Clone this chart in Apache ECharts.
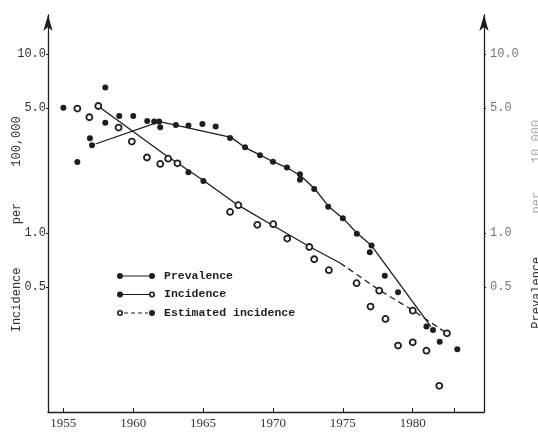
<!DOCTYPE html>
<html>
<head>
<meta charset="utf-8">
<script src="https://cdn.jsdelivr.net/npm/echarts@6/dist/echarts.min.js"></script>
<style>
  html, body { margin: 0; padding: 0; background: #fff; }
  #chart { width: 538px; height: 432px; }
</style>
</head>
<body>
<div id="chart"></div>
<script>
// scattered observations, [year, rate] — filled dots
const filledPts = [
  [1955.0, 5.0], [1958.0, 6.5], [1959.0, 4.5], [1960.0, 4.5], [1958.0, 4.13],
  [1956.9, 3.38], [1957.05, 3.09], [1956.0, 2.49], [1961.0, 4.22], [1961.5, 4.2],
  [1961.85, 4.2], [1961.93, 3.9], [1963.05, 4.01], [1963.95, 3.98], [1964.95, 4.06],
  [1965.9, 3.93], [1966.93, 3.39], [1968.0, 3.01], [1969.07, 2.72], [1970.0, 2.5],
  [1971.0, 2.32], [1971.93, 2.13], [1971.93, 1.98], [1972.95, 1.76], [1973.95, 1.40],
  [1975.0, 1.21], [1976.0, 0.99], [1977.05, 0.85], [1976.93, 0.78], [1978.0, 0.577],
  [1978.95, 0.466], [1980.98, 0.30], [1981.45, 0.287], [1981.93, 0.247], [1983.19, 0.224],
  [1963.95, 2.18], [1965.02, 1.95]
]
// open circles
const openPts = [
  [1956.0, 4.95], [1956.86, 4.43], [1957.5, 5.12], [1958.95, 3.88], [1959.9, 3.24],
  [1960.98, 2.64], [1961.93, 2.43], [1962.5, 2.6], [1963.16, 2.45], [1966.93, 1.31],
  [1967.52, 1.43], [1968.88, 1.11], [1970.02, 1.12], [1971.02, 0.93], [1972.6, 0.835],
  [1972.95, 0.713], [1974.0, 0.62], [1975.98, 0.524], [1977.6, 0.476], [1976.98, 0.388],
  [1978.05, 0.331], [1980.0, 0.368], [1982.45, 0.275], [1978.95, 0.235], [1980.0, 0.245],
  [1980.98, 0.22], [1981.9, 0.14]
]
// fitted lines
const prevLine = [
  [1957.3, 3.14], [1961.9, 4.19], [1967.0, 3.42], [1968.0, 3.0], [1969.1, 2.72],
  [1970.0, 2.5], [1971.0, 2.32], [1972.0, 2.08], [1973.0, 1.76], [1974.0, 1.40],
  [1975.0, 1.21], [1976.0, 1.0], [1977.05, 0.85], [1981.3, 0.30]
]
const incLine = [
  [1957.5, 5.1], [1962.2, 2.76], [1965.0, 1.97], [1967.5, 1.43], [1970.0, 1.1],
  [1972.6, 0.84], [1974.8, 0.68]
]
const estLine = [[1974.8, 0.68], [1977.6, 0.48], [1980.0, 0.37], [1982.45, 0.275]]

const yTicks = [0.5, 1, 5, 10]
const xLabels = [1955, 1960, 1965, 1970, 1975, 1980]
const xTicks = [1955, 1960, 1965, 1970, 1975, 1980, 1983]

const ink = '#1e1e1e'
const mono = '"Liberation Mono", "DejaVu Sans Mono", monospace'

// legend icons: dot, line, dot / ring
const dotL = 'M1,4a3,3 0 1,0 6,0a3,3 0 1,0 -6,0z'
const dotR = 'M33,4a3,3 0 1,0 6,0a3,3 0 1,0 -6,0z'
const ringL = dotL + 'M2.6,4a1.4,1.4 0 1,1 2.8,0a1.4,1.4 0 1,1 -2.8,0z'
const ringR = dotR + 'M34.6,4a1.4,1.4 0 1,1 2.8,0a1.4,1.4 0 1,1 -2.8,0z'
const solid = 'M7,3.4h26v1.2h-26z'
const dashed = 'M8,3.4h4v1.2h-4zM15,3.4h4v1.2h-4zM22,3.4h4v1.2h-4zM29,3.4h3v1.2h-3z'

const chart = echarts.init(document.getElementById('chart'))

const yAxisBase = {
  type: 'log',
  logBase: 10,
  min: 0.1,
  max: 16.5,
  splitLine: { show: false },
  axisLine: {
    show: true,
    symbol: ['none', 'arrow'],
    symbolSize: [7, 16],
    lineStyle: { color: ink, width: 1.3 }
  },
  axisTick: { show: true, length: 2, customValues: yTicks, lineStyle: { color: ink } },
  axisLabel: {
    customValues: yTicks,
    formatter: v => Number(v).toFixed(1),
    fontFamily: mono,
    fontSize: 12
  },
  nameLocation: 'middle',
  nameRotate: 90,
  nameMoveOverlap: false
}

chart.setOption({
  animation: false,
  grid: { left: 48, right: 54, top: 15, bottom: 20, outerBoundsMode: 'none' },
  xAxis: {
    type: 'value',
    min: 1953.9,
    max: 1985.1,
    splitLine: { show: false },
    axisLine: { lineStyle: { color: ink, width: 1.3 } },
    axisTick: { inside: true, length: 4, customValues: xTicks, lineStyle: { color: ink } },
    axisLabel: {
      customValues: xLabels,
      formatter: v => String(v),
      color: '#333',
      fontFamily: '"Liberation Serif", serif',
      fontSize: 13,
      margin: 5
    }
  },
  yAxis: [
    Object.assign({}, yAxisBase, {
      position: 'left',
      axisLabel: Object.assign({}, yAxisBase.axisLabel, { color: '#333', margin: 2 }),
      name: 'Incidence      per     100,000   ',
      nameGap: 25,
      nameTextStyle: { fontFamily: mono, fontSize: 12, color: '#333' }
    }),
    Object.assign({}, yAxisBase, {
      position: 'right',
      axisLabel: Object.assign({}, yAxisBase.axisLabel, { color: '#777', margin: 6 }),
      name: '{a|Prevalence}      {b|per    10,000}   ',
      nameGap: 47,
      nameTextStyle: {
        fontFamily: mono,
        fontSize: 12,
        rich: {
          a: { fontFamily: mono, fontSize: 12, color: '#333' },
          b: { fontFamily: mono, fontSize: 12, color: '#aaa' }
        }
      }
    })
  ],
  legend: {
    orient: 'vertical',
    left: 112,
    top: 265,
    itemWidth: 38,
    itemHeight: 6,
    itemGap: 6.5,
    itemStyle: { borderWidth: 0 },
    textStyle: { fontFamily: mono, fontWeight: 'bold', fontSize: 11.5, color: ink, padding: [0, 0, 0, 4] },
    data: [
      { name: 'Prevalence', icon: 'path://' + dotL + solid + dotR },
      { name: 'Incidence', icon: 'path://' + dotL + solid + ringR },
      { name: 'Estimated incidence', icon: 'path://' + ringL + dashed + dotR }
    ]
  },
  series: [
    {
      name: 'Prevalence',
      type: 'line',
      data: prevLine,
      showSymbol: false,
      itemStyle: { color: ink },
      lineStyle: { color: ink, width: 1.3 },
      z: 1
    },
    {
      name: 'Incidence',
      type: 'line',
      data: incLine,
      showSymbol: false,
      itemStyle: { color: ink },
      lineStyle: { color: ink, width: 1.3 },
      z: 1
    },
    {
      name: 'Estimated incidence',
      type: 'line',
      data: estLine,
      showSymbol: false,
      itemStyle: { color: ink },
      lineStyle: { color: ink, width: 1.3, type: [6, 4] },
      z: 1
    },
    {
      name: 'filled',
      type: 'scatter',
      data: filledPts,
      symbolSize: 6,
      itemStyle: { color: ink, opacity: 1 },
      z: 3
    },
    {
      name: 'open',
      type: 'scatter',
      data: openPts,
      symbol: 'circle',
      symbolSize: 6,
      itemStyle: { color: '#fff', borderColor: ink, borderWidth: 1.8, opacity: 1 },
      z: 3
    }
  ]
})
</script>
</body>
</html>
